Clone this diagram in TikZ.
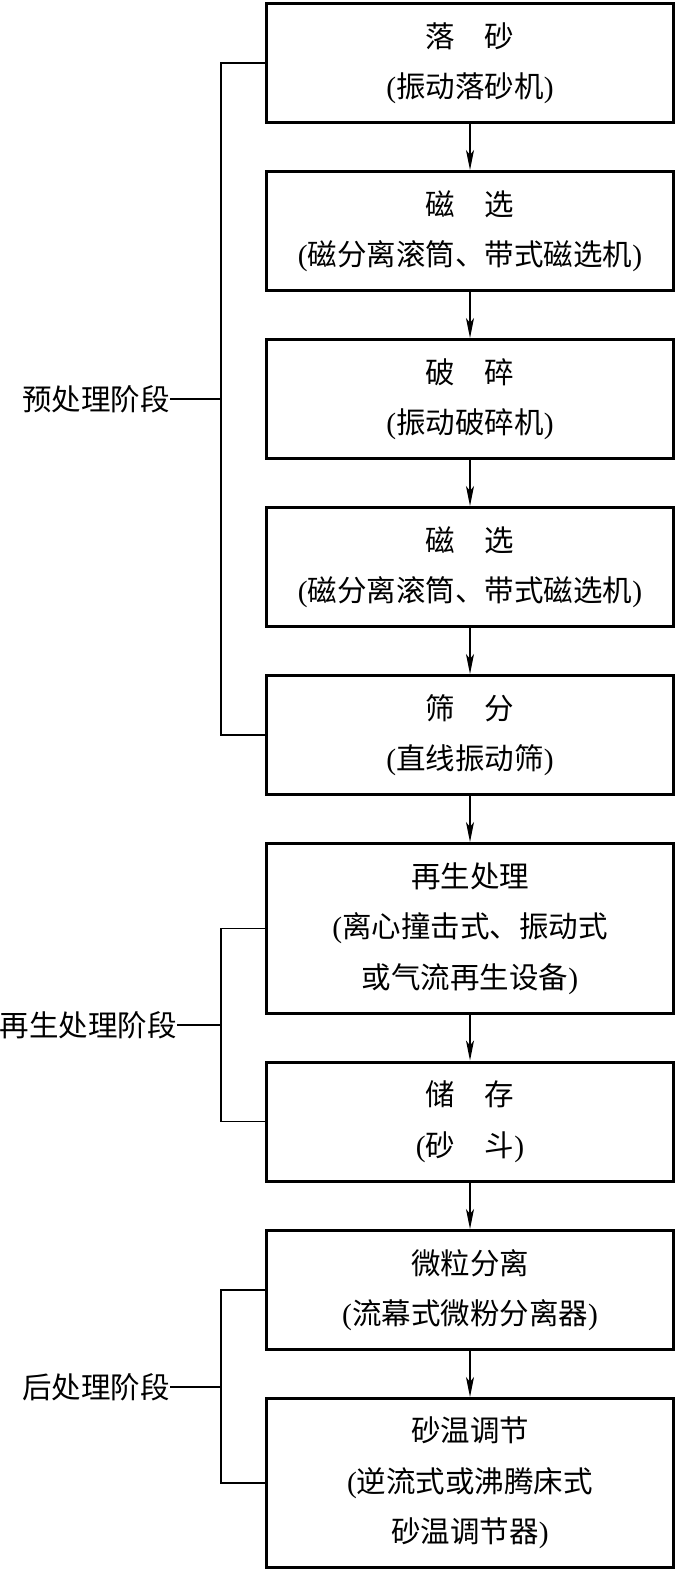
\documentclass[tikz,border=0pt]{standalone}
\usepackage{fontspec}
\newfontfamily\cjk{Noto Sans CJK SC}
\newfontfamily\latinp{Liberation Serif}
\usetikzlibrary{arrows.meta}
\newcommand\lp{{\latinp(}}
\newcommand\rp{{\latinp)}}
\begin{document}
\begin{tikzpicture}[x=1pt,y=-1pt,
 stepbox/.style={draw, line width=3pt, minimum width=407pt, minimum height=119pt, align=center, inner sep=0pt, font=\cjk\fontsize{29.5pt}{50.5pt}\selectfont, execute at begin node={\rule{0pt}{33pt}}},
 flow/.style={line width=1.3pt, -{Stealth[length=20pt,width=8pt,inset=5pt]}},
 brace/.style={line width=1.3pt},
 stage/.style={font=\cjk\fontsize{29.5pt}{35pt}\selectfont, inner sep=0pt, anchor=east}]
\useasboundingbox (0,0) rectangle (677,1572);
\node[stepbox] (b1) at (470,63) {落\hspace{1em}砂\\\lp{}振动落砂机\rp{}};
\node[stepbox] (b2) at (470,231) {磁\hspace{1em}选\\\lp{}磁分离滚筒、带式磁选机\rp{}};
\node[stepbox] (b3) at (470,399) {破\hspace{1em}碎\\\lp{}振动破碎机\rp{}};
\node[stepbox] (b4) at (470,567) {磁\hspace{1em}选\\\lp{}磁分离滚筒、带式磁选机\rp{}};
\node[stepbox] (b5) at (470,735) {筛\hspace{1em}分\\\lp{}直线振动筛\rp{}};
\node[stepbox, minimum height=170pt] (b6) at (470,928.5) {再生处理\\\lp{}离心撞击式、振动式\\或气流再生设备\rp{}};
\node[stepbox] (b7) at (470,1121.5) {储\hspace{1em}存\\\lp{}砂\hspace{1em}斗\rp{}};
\node[stepbox] (b8) at (470,1290) {微粒分离\\\lp{}流幕式微粉分离器\rp{}};
\node[stepbox, minimum height=169pt] (b9) at (470,1483) {砂温调节\\\lp{}逆流式或沸腾床式\\砂温调节器\rp{}};
\foreach \a/\b in {b1/b2,b2/b3,b3/b4,b4/b5,b5/b6,b6/b7,b7/b8,b8/b9}
  \draw[flow] (\a.south) -- (\b.north);
\coordinate (k) at (221,0);
\node[stage] (s1) at (170,399) {预处理阶段};
\node[stage] (s2) at (177,1025) {再生处理阶段};
\node[stage] (s3) at (170,1387) {后处理阶段};
\draw[brace] (b1.west) -- (b1.west -| k) -- (b5.west -| k) -- (b5.west);
\draw[brace] (b6.west) -- (b6.west -| k) -- (b7.west -| k) -- (b7.west);
\draw[brace] (b8.west) -- (b8.west -| k) -- (b9.west -| k) -- (b9.west);
\draw[brace] (s1.east) -- (s1.east -| k);
\draw[brace] (s2.east) -- (s2.east -| k);
\draw[brace] (s3.east) -- (s3.east -| k);
\end{tikzpicture}
\end{document}
